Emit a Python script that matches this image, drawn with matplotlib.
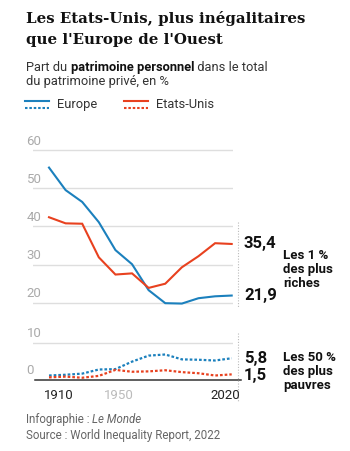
import matplotlib
matplotlib.use('Agg')
import matplotlib.pyplot as plt
import matplotlib.transforms as mtransforms
from matplotlib.lines import Line2D

# données
years = [1910, 1920, 1930, 1940, 1950, 1960, 1970, 1980, 1990, 2000, 2010, 2020]
top1_europe = [55.4, 49.5, 46.4, 41.1, 33.8, 30.1, 23.3, 19.9, 19.8, 21.2, 21.7, 21.9]
top1_usa = [42.4, 40.8, 40.7, 31.9, 27.4, 27.7, 23.9, 25.0, 29.3, 32.2, 35.6, 35.4]
bottom50_europe = [1.2, 1.4, 1.7, 2.8, 2.9, 4.9, 6.5, 6.8, 5.5, 5.4, 5.2, 5.8]
bottom50_usa = [0.7, 0.9, 0.6, 1.1, 2.7, 2.2, 2.3, 2.6, 2.1, 1.8, 1.2, 1.5]
top_ticks = [20, 30, 40, 50, 60]
bottom_ticks = [0, 10]
xtick_labels = ['1910', '1950', '2020']

BLUE = '#1b80bd'
RED = '#e8411f'
SANS = ['Roboto', 'DejaVu Sans']
SERIF = ['DejaVu Serif']

W, H = 350, 451
fig = plt.figure(figsize=(W / 100, H / 100), dpi=100)
fig.patch.set_facecolor('white')


def fx(x):
    return x / W


def fy(y):
    return 1 - y / H


# axe de fond pour les textes
bg = fig.add_axes([0, 0, 1, 1])
bg.set_xlim(0, W)
bg.set_ylim(H, 0)
bg.axis('off')

# titre
bg.text(26, 23.3, "Les Etats-Unis, plus inégalitaires", family=SERIF, weight='bold',
        fontsize=10.8, color='#111111', va='baseline')
bg.text(26, 44.3, "que l'Europe de l'Ouest", family=SERIF, weight='bold',
        fontsize=10.8, color='#111111', va='baseline')

# sous-titre avec partie en gras
t1 = bg.text(26.5, 71, 'Part du ', family=SANS, fontsize=9.3, color='#333333', va='baseline')
t2 = bg.annotate('patrimoine personnel', xy=(1, 0), xycoords=t1, va='bottom',
                 family=SANS, fontsize=9.3, color='#111111', weight='bold')
t3 = bg.annotate(' dans le total', xy=(1, 0), xycoords=t2, va='bottom',
                 family=SANS, fontsize=9.3, color='#333333')
bg.text(26.5, 85.5, 'du patrimoine privé, en %', family=SANS, fontsize=9.3,
        color='#333333', va='baseline')

# légende
for x0, col, lab in [(25, BLUE, 'Europe'), (124, RED, 'Etats-Unis')]:
    bg.add_line(Line2D([x0, x0 + 24], [100.5, 100.5], color=col, lw=1.5))
    bg.add_line(Line2D([x0, x0 + 24], [108, 108], color=col, lw=1.5, ls=(0, (1.2, 0.9))))
    bg.text(x0 + 32, 104.5, lab, family=SANS, fontsize=9.3, color='#333333', va='center')

# source
bg.text(25.5, 423, 'Infographie : ', family=SANS, fontsize=8.3, color='#666666', va='baseline')
bg.text(92, 423, 'Le Monde', family=SANS, fontsize=8.3, color='#666666', va='baseline', style='italic')
bg.text(25.5, 439, 'Source : World Inequality Report, 2022', family=SANS, fontsize=8.3,
        color='#666666', va='baseline')

# géométrie des axes (pixels)
x_left, x_right = 33, 233
px_per_year = (231.7 - 49) / 110
xlim = (1910 + (x_left - 49) / px_per_year, 1910 + (x_right - 49) / px_per_year)

top_lim = (18.8, 61)
top_px = 3.82  # pixels par point
ax1 = fig.add_axes([fx(x_left), fy(150 + (top_lim[0] - 60) * -top_px), fx(x_right - x_left),
                    (top_lim[1] - top_lim[0]) * top_px / H])
bot_lim = (-0.6, 12.5)
bot_px = 3.75
ax2 = fig.add_axes([fx(x_left), fy(380 - bot_lim[0] * bot_px), fx(x_right - x_left),
                    (bot_lim[1] - bot_lim[0]) * bot_px / H])

for ax, lim, ticks in [(ax1, top_lim, top_ticks), (ax2, bot_lim, bottom_ticks)]:
    ax.set_xlim(*xlim)
    ax.set_ylim(*lim)
    ax.axis('off')
    trans = mtransforms.blended_transform_factory(ax.transAxes, ax.transData)
    for t in ticks:
        if t == 0:
            ax.axhline(0, xmin=0.01, xmax=1.04, color='#333333', lw=1.1, clip_on=False, zorder=1)
        else:
            ax.axhline(t, color='#dedede', lw=1, zorder=0)
        ax.annotate(str(t), xy=(0, t), xycoords=trans, xytext=(-6.5, 2.5),
                    textcoords='offset pixels', family=SANS, fontsize=9.5,
                    color='#aaaaaa', va='bottom', ha='left')

# courbes
ax1.plot(years, top1_europe, color=BLUE, lw=1.5, solid_joinstyle='miter', zorder=3)
ax1.plot(years, top1_usa, color=RED, lw=1.5, solid_joinstyle='miter', zorder=3)
ax2.plot(years, bottom50_europe, color=BLUE, lw=1.6, ls=(0, (1.2, 0.9)), zorder=3)
ax2.plot(years, bottom50_usa, color=RED, lw=1.6, ls=(0, (1.2, 0.9)), zorder=3)

# crochets pointillés
tr1 = mtransforms.blended_transform_factory(ax1.transAxes, ax1.transData)
tr2 = mtransforms.blended_transform_factory(ax2.transAxes, ax2.transData)
ax1.plot([1.025, 1.025], [41.2, 18.8], transform=tr1, color='#bbbbbb', lw=0.8,
         ls=(0, (1, 1.5)), clip_on=False)
ax2.plot([1.025, 1.025], [12.5, -5.5], transform=tr2, color='#bbbbbb', lw=0.8,
         ls=(0, (1, 1.5)), clip_on=False)

# valeurs finales
num_style = dict(family=SANS, fontsize=12, weight='bold', color='#111111', va='center', ha='left')
ax1.text(1.055, top1_usa[-1], '35,4', transform=tr1, **num_style)
ax1.text(1.055, top1_europe[-1], '21,9', transform=tr1, **num_style)
ax2.text(1.055, bottom50_europe[-1] - 0.2, '5,8', transform=tr2, **num_style)
ax2.text(1.055, bottom50_usa[-1] - 0.3, '1,5', transform=tr2, **num_style)

lab_style = dict(family=SANS, fontsize=9.5, weight='bold', color='#111111', va='center',
                 ha='left', linespacing=1.1)
ax1.text(1.25, 28.8, 'Les 1 %\ndes plus\nriches', transform=tr1, **lab_style)
ax2.text(1.25, 2.2, 'Les 50 %\ndes plus\npauvres', transform=tr2, **lab_style)

# années
for lab, dx in zip(xtick_labels, [10, 3.5, -6]):
    ax2.annotate(lab, xy=(int(lab), 0), xycoords='data', xytext=(dx, -15.7),
                 textcoords='offset pixels', family=SANS, fontsize=9.5, ha='center', va='center',
                 color='#bbbbbb' if lab == '1950' else '#222222')

fig.savefig('out.png', dpi=100, facecolor='white')
